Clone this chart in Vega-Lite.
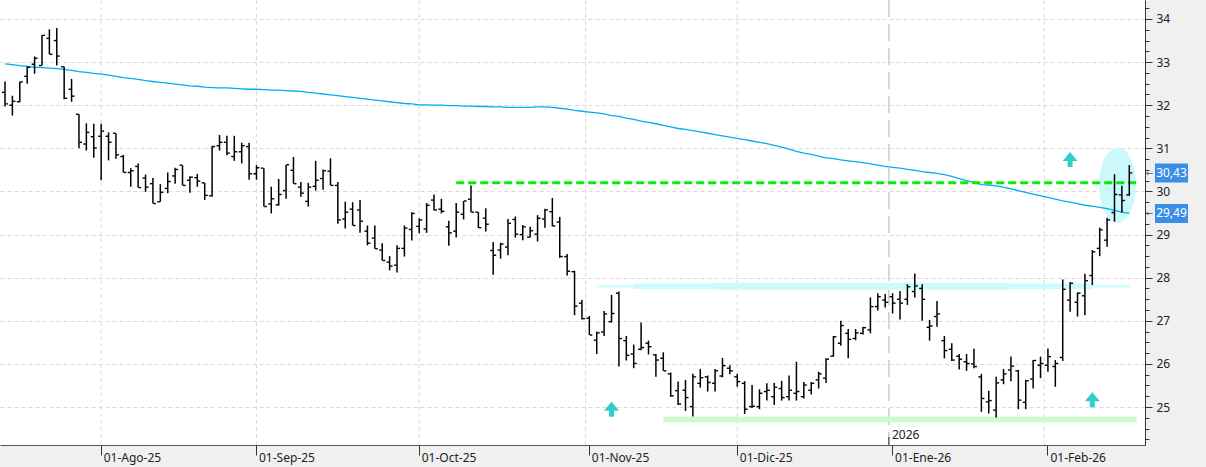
{
"$schema":"https://vega.github.io/schema/vega-lite/v6.json",
"width":1145,"height":445,
"autosize":{"type":"none"},
"padding":{"left":0,"top":0,"right":61,"bottom":22},
"background":"#f0f0f0",
"config":{"view":{"stroke":null,"fill":"white"},"font":"Noto Sans","locale":{"number":{"decimal":",","thousands":".","grouping":[3],"currency":["","€"]}}},
"datasets":{"bars":[
{"d":"2025-07-15","o":32.30,"h":32.55,"l":31.97,"c":32.03,"ma":32.96},
{"d":"2025-07-16","o":32.00,"h":32.22,"l":31.76,"c":32.09,"ma":32.94},
{"d":"2025-07-17","o":32.08,"h":32.55,"l":32.07,"c":32.54,"ma":32.92},
{"d":"2025-07-18","o":32.67,"h":32.90,"l":32.50,"c":32.88,"ma":32.90},
{"d":"2025-07-21","o":32.95,"h":33.13,"l":32.73,"c":33.09,"ma":32.88},
{"d":"2025-07-22","o":32.92,"h":33.63,"l":32.92,"c":33.62,"ma":32.87},
{"d":"2025-07-23","o":33.55,"h":33.76,"l":33.18,"c":33.18,"ma":32.86},
{"d":"2025-07-24","o":33.50,"h":33.79,"l":32.92,"c":33.14,"ma":32.85},
{"d":"2025-07-25","o":32.89,"h":32.90,"l":32.14,"c":32.16,"ma":32.83},
{"d":"2025-07-28","o":32.37,"h":32.61,"l":32.08,"c":32.21,"ma":32.81},
{"d":"2025-07-29","o":31.79,"h":31.79,"l":31.00,"c":31.14,"ma":32.78},
{"d":"2025-07-30","o":31.10,"h":31.58,"l":30.95,"c":31.37,"ma":32.76},
{"d":"2025-07-31","o":31.27,"h":31.57,"l":30.78,"c":31.01,"ma":32.74},
{"d":"2025-08-01","o":31.28,"h":31.57,"l":30.26,"c":31.40,"ma":32.72},
{"d":"2025-08-04","o":31.28,"h":31.37,"l":30.72,"c":31.14,"ma":32.70},
{"d":"2025-08-05","o":31.35,"h":31.35,"l":30.76,"c":30.85,"ma":32.67},
{"d":"2025-08-06","o":30.81,"h":30.85,"l":30.44,"c":30.44,"ma":32.64},
{"d":"2025-08-07","o":30.44,"h":30.54,"l":30.11,"c":30.48,"ma":32.62},
{"d":"2025-08-08","o":30.58,"h":30.65,"l":30.09,"c":30.09,"ma":32.60},
{"d":"2025-08-11","o":30.31,"h":30.39,"l":29.99,"c":30.10,"ma":32.57},
{"d":"2025-08-12","o":30.18,"h":30.31,"l":29.72,"c":29.72,"ma":32.55},
{"d":"2025-08-13","o":29.76,"h":30.17,"l":29.76,"c":29.98,"ma":32.53},
{"d":"2025-08-14","o":30.07,"h":30.44,"l":29.96,"c":30.23,"ma":32.51},
{"d":"2025-08-15","o":30.36,"h":30.55,"l":30.18,"c":30.51,"ma":32.49},
{"d":"2025-08-18","o":30.61,"h":30.61,"l":30.14,"c":30.14,"ma":32.47},
{"d":"2025-08-19","o":30.26,"h":30.35,"l":29.97,"c":30.33,"ma":32.45},
{"d":"2025-08-20","o":30.32,"h":30.41,"l":30.11,"c":30.24,"ma":32.44},
{"d":"2025-08-21","o":30.20,"h":30.20,"l":29.80,"c":29.91,"ma":32.42},
{"d":"2025-08-22","o":29.90,"h":31.06,"l":29.88,"c":31.04,"ma":32.41},
{"d":"2025-08-25","o":31.06,"h":31.31,"l":30.95,"c":31.14,"ma":32.40},
{"d":"2025-08-26","o":31.14,"h":31.29,"l":30.84,"c":30.89,"ma":32.40},
{"d":"2025-08-27","o":30.81,"h":31.29,"l":30.71,"c":30.92,"ma":32.39},
{"d":"2025-08-28","o":30.92,"h":31.13,"l":30.65,"c":31.06,"ma":32.38},
{"d":"2025-08-29","o":31.04,"h":31.13,"l":30.27,"c":30.41,"ma":32.37},
{"d":"2025-09-01","o":30.41,"h":30.61,"l":30.27,"c":30.55,"ma":32.37},
{"d":"2025-09-02","o":30.54,"h":30.54,"l":29.65,"c":29.65,"ma":32.36},
{"d":"2025-09-03","o":29.71,"h":30.11,"l":29.49,"c":29.83,"ma":32.35},
{"d":"2025-09-04","o":29.69,"h":30.29,"l":29.67,"c":29.93,"ma":32.35},
{"d":"2025-09-05","o":30.02,"h":30.62,"l":29.83,"c":30.62,"ma":32.34},
{"d":"2025-09-08","o":30.49,"h":30.80,"l":30.18,"c":30.18,"ma":32.33},
{"d":"2025-09-09","o":30.10,"h":30.22,"l":29.88,"c":29.96,"ma":32.32},
{"d":"2025-09-10","o":29.77,"h":30.20,"l":29.65,"c":30.10,"ma":32.30},
{"d":"2025-09-11","o":30.12,"h":30.71,"l":30.02,"c":30.26,"ma":32.28},
{"d":"2025-09-12","o":30.30,"h":30.51,"l":30.04,"c":30.48,"ma":32.26},
{"d":"2025-09-15","o":30.47,"h":30.77,"l":30.14,"c":30.14,"ma":32.24},
{"d":"2025-09-16","o":30.14,"h":30.22,"l":29.25,"c":29.34,"ma":32.22},
{"d":"2025-09-17","o":29.36,"h":29.76,"l":29.14,"c":29.52,"ma":32.20},
{"d":"2025-09-18","o":29.59,"h":29.75,"l":29.21,"c":29.21,"ma":32.18},
{"d":"2025-09-19","o":29.57,"h":29.80,"l":29.04,"c":29.31,"ma":32.16},
{"d":"2025-09-22","o":29.08,"h":29.21,"l":28.75,"c":28.80,"ma":32.14},
{"d":"2025-09-23","o":28.92,"h":29.21,"l":28.67,"c":28.67,"ma":32.12},
{"d":"2025-09-24","o":28.64,"h":28.80,"l":28.40,"c":28.40,"ma":32.10},
{"d":"2025-09-25","o":28.36,"h":28.50,"l":28.17,"c":28.27,"ma":32.08},
{"d":"2025-09-26","o":28.29,"h":28.75,"l":28.12,"c":28.68,"ma":32.06},
{"d":"2025-09-29","o":28.68,"h":29.21,"l":28.49,"c":29.15,"ma":32.04},
{"d":"2025-09-30","o":29.12,"h":29.52,"l":28.86,"c":29.49,"ma":32.03},
{"d":"2025-10-01","o":29.19,"h":29.38,"l":29.03,"c":29.34,"ma":32.01},
{"d":"2025-10-02","o":29.13,"h":29.73,"l":29.04,"c":29.68,"ma":32.01},
{"d":"2025-10-03","o":29.80,"h":29.93,"l":29.56,"c":29.57,"ma":32.00},
{"d":"2025-10-06","o":29.59,"h":29.83,"l":29.49,"c":29.54,"ma":32.00},
{"d":"2025-10-07","o":29.18,"h":29.32,"l":28.74,"c":29.04,"ma":31.99},
{"d":"2025-10-08","o":29.08,"h":29.73,"l":28.93,"c":29.52,"ma":31.99},
{"d":"2025-10-09","o":29.47,"h":29.78,"l":29.35,"c":29.78,"ma":31.98},
{"d":"2025-10-10","o":29.82,"h":30.14,"l":29.52,"c":29.52,"ma":31.98},
{"d":"2025-10-13","o":29.52,"h":29.52,"l":29.15,"c":29.16,"ma":31.97},
{"d":"2025-10-14","o":29.38,"h":29.61,"l":29.07,"c":29.24,"ma":31.97},
{"d":"2025-10-15","o":28.63,"h":28.83,"l":28.07,"c":28.52,"ma":31.96},
{"d":"2025-10-16","o":28.64,"h":28.81,"l":28.44,"c":28.78,"ma":31.96},
{"d":"2025-10-17","o":28.71,"h":29.36,"l":28.52,"c":29.26,"ma":31.95},
{"d":"2025-10-20","o":29.35,"h":29.42,"l":28.93,"c":29.01,"ma":31.95},
{"d":"2025-10-21","o":29.00,"h":29.22,"l":28.87,"c":29.18,"ma":31.95},
{"d":"2025-10-22","o":28.94,"h":29.18,"l":28.93,"c":29.09,"ma":31.95},
{"d":"2025-10-23","o":29.01,"h":29.45,"l":28.84,"c":29.38,"ma":31.96},
{"d":"2025-10-24","o":29.36,"h":29.60,"l":29.16,"c":29.57,"ma":31.96},
{"d":"2025-10-27","o":29.53,"h":29.85,"l":29.19,"c":29.20,"ma":31.95},
{"d":"2025-10-28","o":29.29,"h":29.41,"l":28.46,"c":28.49,"ma":31.93},
{"d":"2025-10-29","o":28.49,"h":28.55,"l":28.05,"c":28.15,"ma":31.91},
{"d":"2025-10-30","o":28.14,"h":28.16,"l":27.13,"c":27.34,"ma":31.88},
{"d":"2025-10-31","o":27.41,"h":27.48,"l":27.03,"c":27.05,"ma":31.86},
{"d":"2025-11-03","o":27.06,"h":27.11,"l":26.67,"c":26.67,"ma":31.84},
{"d":"2025-11-04","o":26.55,"h":26.75,"l":26.23,"c":26.72,"ma":31.82},
{"d":"2025-11-05","o":26.74,"h":27.23,"l":26.65,"c":27.16,"ma":31.80},
{"d":"2025-11-06","o":26.98,"h":27.60,"l":26.96,"c":27.17,"ma":31.76},
{"d":"2025-11-07","o":27.64,"h":27.68,"l":25.94,"c":26.59,"ma":31.74},
{"d":"2025-11-10","o":26.54,"h":26.65,"l":26.08,"c":26.20,"ma":31.70},
{"d":"2025-11-11","o":26.23,"h":26.45,"l":25.90,"c":26.01,"ma":31.67},
{"d":"2025-11-12","o":26.34,"h":26.96,"l":26.32,"c":26.38,"ma":31.63},
{"d":"2025-11-13","o":26.48,"h":26.54,"l":26.22,"c":26.40,"ma":31.60},
{"d":"2025-11-14","o":26.21,"h":26.23,"l":25.70,"c":26.09,"ma":31.57},
{"d":"2025-11-17","o":26.13,"h":26.27,"l":25.84,"c":25.84,"ma":31.53},
{"d":"2025-11-18","o":25.77,"h":25.80,"l":25.24,"c":25.26,"ma":31.50},
{"d":"2025-11-19","o":25.38,"h":25.59,"l":25.05,"c":25.07,"ma":31.46},
{"d":"2025-11-20","o":25.39,"h":25.63,"l":24.91,"c":25.22,"ma":31.44},
{"d":"2025-11-21","o":25.01,"h":25.77,"l":24.78,"c":25.70,"ma":31.41},
{"d":"2025-11-24","o":25.55,"h":25.88,"l":25.45,"c":25.68,"ma":31.38},
{"d":"2025-11-25","o":25.70,"h":25.73,"l":25.36,"c":25.57,"ma":31.35},
{"d":"2025-11-26","o":25.55,"h":25.88,"l":25.36,"c":25.84,"ma":31.32},
{"d":"2025-11-27","o":25.72,"h":26.14,"l":25.69,"c":25.96,"ma":31.29},
{"d":"2025-11-28","o":25.90,"h":25.97,"l":25.76,"c":25.84,"ma":31.26},
{"d":"2025-12-01","o":25.70,"h":25.77,"l":25.47,"c":25.59,"ma":31.23},
{"d":"2025-12-02","o":25.55,"h":25.60,"l":24.84,"c":24.95,"ma":31.20},
{"d":"2025-12-03","o":25.01,"h":25.51,"l":24.98,"c":25.02,"ma":31.17},
{"d":"2025-12-04","o":25.01,"h":25.41,"l":24.95,"c":25.32,"ma":31.14},
{"d":"2025-12-05","o":25.36,"h":25.55,"l":25.15,"c":25.39,"ma":31.11},
{"d":"2025-12-08","o":25.24,"h":25.56,"l":25.05,"c":25.46,"ma":31.07},
{"d":"2025-12-09","o":25.43,"h":25.61,"l":25.15,"c":25.22,"ma":31.03},
{"d":"2025-12-10","o":25.24,"h":25.73,"l":25.15,"c":25.39,"ma":30.98},
{"d":"2025-12-11","o":25.32,"h":26.05,"l":25.15,"c":25.36,"ma":30.93},
{"d":"2025-12-12","o":25.24,"h":25.58,"l":25.20,"c":25.51,"ma":30.89},
{"d":"2025-12-15","o":25.39,"h":25.58,"l":25.29,"c":25.55,"ma":30.86},
{"d":"2025-12-16","o":25.63,"h":25.82,"l":25.43,"c":25.77,"ma":30.82},
{"d":"2025-12-17","o":25.67,"h":26.13,"l":25.56,"c":26.11,"ma":30.78},
{"d":"2025-12-18","o":26.18,"h":26.65,"l":26.17,"c":26.63,"ma":30.76},
{"d":"2025-12-19","o":26.48,"h":27.00,"l":26.42,"c":26.89,"ma":30.73},
{"d":"2025-12-22","o":26.71,"h":26.81,"l":26.13,"c":26.57,"ma":30.71},
{"d":"2025-12-23","o":26.59,"h":26.81,"l":26.55,"c":26.72,"ma":30.69},
{"d":"2025-12-24","o":26.71,"h":26.86,"l":26.68,"c":26.84,"ma":30.67},
{"d":"2025-12-29","o":26.79,"h":27.54,"l":26.71,"c":27.33,"ma":30.64},
{"d":"2025-12-30","o":27.33,"h":27.64,"l":27.24,"c":27.56,"ma":30.61},
{"d":"2025-12-31","o":27.48,"h":27.62,"l":27.31,"c":27.43,"ma":30.58},
{"d":"2026-01-02","o":27.56,"h":27.64,"l":27.17,"c":27.41,"ma":30.56},
{"d":"2026-01-05","o":27.50,"h":27.69,"l":27.03,"c":27.41,"ma":30.54},
{"d":"2026-01-06","o":27.50,"h":27.85,"l":27.37,"c":27.79,"ma":30.51},
{"d":"2026-01-07","o":27.68,"h":28.10,"l":27.54,"c":27.81,"ma":30.49},
{"d":"2026-01-08","o":27.75,"h":27.85,"l":27.00,"c":27.50,"ma":30.46},
{"d":"2026-01-09","o":26.85,"h":27.02,"l":26.54,"c":26.88,"ma":30.44},
{"d":"2026-01-12","o":27.10,"h":27.46,"l":26.86,"c":27.16,"ma":30.42},
{"d":"2026-01-13","o":26.54,"h":26.65,"l":26.13,"c":26.31,"ma":30.39},
{"d":"2026-01-14","o":26.34,"h":26.48,"l":26.07,"c":26.09,"ma":30.35},
{"d":"2026-01-15","o":26.18,"h":26.23,"l":25.87,"c":26.11,"ma":30.30},
{"d":"2026-01-16","o":26.05,"h":26.23,"l":25.84,"c":26.01,"ma":30.25},
{"d":"2026-01-19","o":26.00,"h":26.35,"l":25.90,"c":25.94,"ma":30.21},
{"d":"2026-01-20","o":25.70,"h":25.77,"l":24.89,"c":25.20,"ma":30.16},
{"d":"2026-01-21","o":25.12,"h":25.38,"l":24.85,"c":25.15,"ma":30.15},
{"d":"2026-01-22","o":24.93,"h":25.70,"l":24.76,"c":25.56,"ma":30.13},
{"d":"2026-01-23","o":25.63,"h":25.88,"l":25.53,"c":25.77,"ma":30.10},
{"d":"2026-01-26","o":25.86,"h":26.17,"l":25.60,"c":25.95,"ma":30.06},
{"d":"2026-01-27","o":25.84,"h":25.86,"l":24.95,"c":25.16,"ma":30.02},
{"d":"2026-01-28","o":25.11,"h":25.63,"l":24.95,"c":25.61,"ma":29.98},
{"d":"2026-01-29","o":25.65,"h":26.09,"l":25.43,"c":26.08,"ma":29.94},
{"d":"2026-01-30","o":25.97,"h":26.17,"l":25.67,"c":26.01,"ma":29.90},
{"d":"2026-02-02","o":25.97,"h":26.36,"l":25.82,"c":26.17,"ma":29.86},
{"d":"2026-02-03","o":25.94,"h":26.09,"l":25.47,"c":26.01,"ma":29.82},
{"d":"2026-02-04","o":26.15,"h":27.96,"l":26.07,"c":27.73,"ma":29.78},
{"d":"2026-02-05","o":27.48,"h":27.90,"l":27.21,"c":27.87,"ma":29.75},
{"d":"2026-02-06","o":27.43,"h":27.66,"l":27.10,"c":27.64,"ma":29.72},
{"d":"2026-02-09","o":27.58,"h":28.09,"l":27.13,"c":27.93,"ma":29.68},
{"d":"2026-02-10","o":28.05,"h":28.64,"l":27.83,"c":28.60,"ma":29.66},
{"d":"2026-02-11","o":28.68,"h":29.16,"l":28.50,"c":29.11,"ma":29.63},
{"d":"2026-02-12","o":28.87,"h":29.39,"l":28.72,"c":29.34,"ma":29.60},
{"d":"2026-02-13","o":29.51,"h":30.40,"l":29.30,"c":29.93,"ma":29.56},
{"d":"2026-02-16","o":29.92,"h":30.13,"l":29.51,"c":29.79,"ma":29.52},
{"d":"2026-02-17","o":29.92,"h":30.61,"l":29.90,"c":30.43,"ma":29.49}
]},
"resolve":{"axis":{"y":"independent"}},
"layer":[
{"layer":[
{"data":{"values":[{"d":"2025-08-01"},{"d":"2025-09-01"},{"d":"2025-10-01"},{"d":"2025-12-01"}]},
 "mark":{"type":"rule","color":"#d9d9d9","strokeDash":[4,3],"strokeWidth":1},
 "encoding":{"x":{"field":"d","type":"ordinal","scale":{"type":"band","paddingInner":0,"paddingOuter":0.4,"align":0.22},"title":null}}},
{"data":{"values":[{"d":"2025-11-03"},{"d":"2026-02-02"}]},
 "mark":{"type":"rule","color":"#d9d9d9","strokeDash":[4,3],"strokeWidth":1},
 "encoding":{"x":{"field":"d","type":"ordinal","bandPosition":0,"scale":{"type":"band","paddingInner":0,"paddingOuter":0.4,"align":0.22},"title":null}}},
{"data":{"values":[{"d":"2026-01-02"}]},
 "mark":{"type":"rule","color":"#c8c8c8","strokeDash":[17,7],"strokeWidth":1.4},
 "encoding":{"x":{"field":"d","type":"ordinal","bandPosition":0,"scale":{"type":"band","paddingInner":0,"paddingOuter":0.4,"align":0.22},"title":null}}},
{"data":{"values":[{"d":"2026-02-13","v":30.15}]},
 "mark":{"type":"point","shape":"M0,-1C0.269,-1,0.487,-0.5523,0.487,0C0.487,0.5523,0.269,1,0,1C-0.269,1,-0.487,0.5523,-0.487,0C-0.487,-0.5523,-0.269,-1,0,-1Z","size":5670,"filled":true,"fill":"#cdf8fc","strokeWidth":0,"opacity":1,"xOffset":3},
 "encoding":{"x":{"field":"d","type":"ordinal","scale":{"type":"band","paddingInner":0,"paddingOuter":0.4,"align":0.22},"title":null},
  "y":{"field":"v","type":"quantitative","scale":{"domain":[24.12,34.44],"nice":false,"zero":false},"title":null}}},
{"data":{"values":[{"d":"2025-11-04","d2":"2026-02-17","v":27.8}]},
 "mark":{"type":"rule","color":"#ccfbfe","strokeWidth":2.6},
 "encoding":{"x":{"field":"d","type":"ordinal","scale":{"type":"band","paddingInner":0,"paddingOuter":0.4,"align":0.22},"title":null},"x2":{"field":"d2"},
  "y":{"field":"v","type":"quantitative","scale":{"domain":[24.12,34.44],"nice":false,"zero":false},"title":null}}},
{"data":{"values":[{"d":"2025-11-11","d2":"2026-02-10","v":27.8}]},
 "mark":{"type":"rule","color":"#ccfbfe","strokeWidth":5.5},
 "encoding":{"x":{"field":"d","type":"ordinal","scale":{"type":"band","paddingInner":0,"paddingOuter":0.4,"align":0.22},"title":null},"x2":{"field":"d2"},
  "y":{"field":"v","type":"quantitative","scale":{"domain":[24.12,34.44],"nice":false,"zero":false},"title":null}}},
{"data":{"values":[{"d":"2025-11-26","d2":"2026-01-26","v":27.8}]},
 "mark":{"type":"rule","color":"#ccfbfe","strokeWidth":7},
 "encoding":{"x":{"field":"d","type":"ordinal","scale":{"type":"band","paddingInner":0,"paddingOuter":0.4,"align":0.22},"title":null},"x2":{"field":"d2"},
  "y":{"field":"v","type":"quantitative","scale":{"domain":[24.12,34.44],"nice":false,"zero":false},"title":null}}},
{"data":{"values":[{"d":"2025-11-17","d2":"2026-02-18","v":24.71}]},
 "mark":{"type":"rule","color":"#ccfccc","strokeWidth":5.5},
 "encoding":{"x":{"field":"d","type":"ordinal","scale":{"type":"band","paddingInner":0,"paddingOuter":0.4,"align":0.22},"title":null},"x2":{"field":"d2"},
  "y":{"field":"v","type":"quantitative","scale":{"domain":[24.12,34.44],"nice":false,"zero":false},"title":null}}},
{"data":{"name":"bars"},
 "mark":{"type":"line","color":"#00aeef","strokeWidth":1.3},
 "encoding":{"x":{"field":"d","type":"ordinal","scale":{"type":"band","paddingInner":0,"paddingOuter":0.4,"align":0.22},"title":null},
  "y":{"field":"ma","type":"quantitative","scale":{"domain":[24.12,34.44],"nice":false,"zero":false},"title":null}}},
{"data":{"values":[{"d":"2025-10-08","d2":"2026-02-18","v":30.2}]},
 "mark":{"type":"rule","color":"#00f000","strokeWidth":3,"strokeDash":[8,4]},
 "encoding":{"x":{"field":"d","type":"ordinal","scale":{"type":"band","paddingInner":0,"paddingOuter":0.4,"align":0.22},"title":null},"x2":{"field":"d2"},
  "y":{"field":"v","type":"quantitative","scale":{"domain":[24.12,34.44],"nice":false,"zero":false},"title":null}}},
{"data":{"values":[{"d":"2025-11-06","v":24.95},{"d":"2026-02-10","v":25.17},{"d":"2026-02-05","v":30.74}]},
 "mark":{"type":"point","shape":"M0,-1L1,0.2L0.33,0.2L0.33,1L-0.33,1L-0.33,0.2L-1,0.2Z","size":225,"filled":true,"fill":"#33cccc","strokeWidth":0,"opacity":1},
 "encoding":{"x":{"field":"d","type":"ordinal","scale":{"type":"band","paddingInner":0,"paddingOuter":0.4,"align":0.22},"title":null},
  "y":{"field":"v","type":"quantitative","scale":{"domain":[24.12,34.44],"nice":false,"zero":false},"title":null}}},
{"data":{"name":"bars"},
 "mark":{"type":"rule","color":"#000","strokeWidth":1.5},
 "encoding":{"x":{"field":"d","type":"ordinal","scale":{"type":"band","paddingInner":0,"paddingOuter":0.4,"align":0.22},"title":null,
   "axis":{"values":["2025-08-01","2025-09-01","2025-10-01","2025-11-03","2025-12-01","2026-01-02","2026-02-02"],
    "labelExpr":"datum.value == '2025-08-01' ? '01-Ago-25' : datum.value == '2025-09-01' ? '01-Sep-25' : datum.value == '2025-10-01' ? '01-Oct-25' : datum.value == '2025-11-03' ? '01-Nov-25' : datum.value == '2025-12-01' ? '01-Dic-25' : datum.value == '2026-01-02' ? '01-Ene-26' : '01-Feb-26'",
    "bandPosition":0.5,"grid":false,"domainColor":"#555","tickColor":"#333","tickSize":10,"labelAngle":0,"labelAlign":"left","labelBaseline":"top","labelPadding":-3,"labelOffset":2.5,"labelFontSize":12,"labelColor":"#222","labelOverlap":false,"title":null}},
  "y":{"field":"l","type":"quantitative","scale":{"domain":[24.12,34.44],"nice":false,"zero":false},"title":null,
   "axis":{"orient":"right","values":[25,26,27,28,29,30,31,32,33,34],"format":"d","tickSize":7,
    "grid":true,"gridColor":"#d9d9d9","gridDash":[4,3],
    "domainColor":"#333","tickColor":"#333","labelColor":"#222","labelFontSize":12,"labelPadding":4,"labelOverlap":false,"title":null}},
  "y2":{"field":"h"}}},
{"data":{"name":"bars"},
 "mark":{"type":"tick","orient":"horizontal","size":2.6,"thickness":1.4,"xOffset":1.7,"color":"#000","opacity":1},
 "encoding":{"x":{"field":"d","type":"ordinal","scale":{"type":"band","paddingInner":0,"paddingOuter":0.4,"align":0.22},"title":null},
  "y":{"field":"c","type":"quantitative","scale":{"domain":[24.12,34.44],"nice":false,"zero":false},"title":null}}},
{"data":{"values":[{"d":"2026-01-02","v":24.31,"t":"2026"}]},
 "layer":[
  {"mark":{"type":"rule","color":"#333","strokeWidth":1},
   "encoding":{"x":{"field":"d","type":"ordinal","bandPosition":0,"scale":{"type":"band","paddingInner":0,"paddingOuter":0.4,"align":0.22},"title":null},
    "y":{"field":"v","type":"quantitative","scale":{"domain":[24.12,34.44],"nice":false,"zero":false},"title":null},"y2":{"datum":24.12}}},
  {"mark":{"type":"text","align":"left","baseline":"middle","dx":3,"dy":-2,"fontSize":12,"color":"#222"},
   "encoding":{"x":{"field":"d","type":"ordinal","bandPosition":0,"scale":{"type":"band","paddingInner":0,"paddingOuter":0.4,"align":0.22},"title":null},
    "y":{"field":"v","type":"quantitative","scale":{"domain":[24.12,34.44],"nice":false,"zero":false},"title":null},"text":{"field":"t"}}}
 ]},
{"data":{"values":[{"d":"2026-02-18","v":30.43},{"d":"2026-02-18","v":29.49}]},
 "layer":[
  {"mark":{"type":"tick","orient":"horizontal","size":33,"thickness":19,"xOffset":34.8,"color":"#3a8ee6","opacity":1},
   "encoding":{"x":{"field":"d","type":"ordinal","scale":{"type":"band","paddingInner":0,"paddingOuter":0.4,"align":0.22},"title":null},
    "y":{"field":"v","type":"quantitative","scale":{"domain":[24.12,34.44],"nice":false,"zero":false},"title":null}}},
  {"mark":{"type":"text","align":"center","baseline":"middle","xOffset":34.8,"fontSize":12,"color":"#ffffff"},
   "encoding":{"x":{"field":"d","type":"ordinal","scale":{"type":"band","paddingInner":0,"paddingOuter":0.4,"align":0.22},"title":null},
    "y":{"field":"v","type":"quantitative","scale":{"domain":[24.12,34.44],"nice":false,"zero":false},"title":null},
    "text":{"field":"v","type":"quantitative","format":".2f"}}},
  {"mark":{"type":"text","align":"center","baseline":"middle","xOffset":12.8,"fontSize":9,"color":"#555","text":"←","font":"DejaVu Sans"},
   "encoding":{"x":{"field":"d","type":"ordinal","scale":{"type":"band","paddingInner":0,"paddingOuter":0.4,"align":0.22},"title":null},
    "y":{"field":"v","type":"quantitative","scale":{"domain":[24.12,34.44],"nice":false,"zero":false},"title":null}}}
 ]}
]},
{"data":{"name":"bars"},
 "mark":{"type":"tick","orient":"horizontal","size":2.6,"thickness":1.4,"xOffset":-1.7,"color":"#000","opacity":1},
 "encoding":{"x":{"field":"d","type":"ordinal","scale":{"type":"band","paddingInner":0,"paddingOuter":0.4,"align":0.22},"title":null},
  "y":{"field":"o","type":"quantitative","scale":{"domain":[24.12,34.44],"nice":false,"zero":false},"title":null,
   "axis":{"orient":"right","values":[24.25,24.5,24.75,25.25,25.5,25.75,26.25,26.5,26.75,27.25,27.5,27.75,28.25,28.5,28.75,29.25,29.5,29.75,30.25,30.5,30.75,31.25,31.5,31.75,32.25,32.5,32.75,33.25,33.5,33.75,34.25],
    "labels":false,"grid":false,"domain":false,"tickSize":4,"tickColor":"#333","offset":0,"title":null}}}}
]
}
